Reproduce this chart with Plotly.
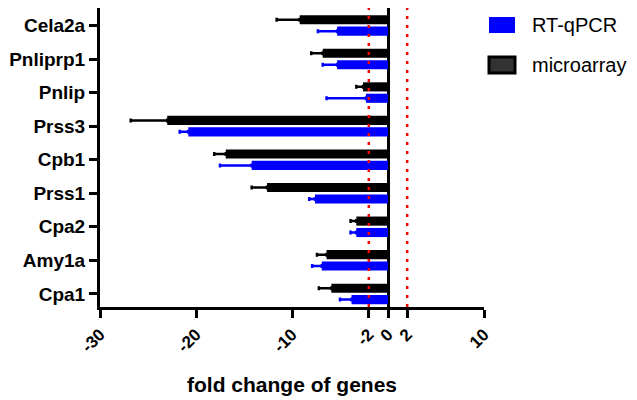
import plotly.graph_objects as go

genes = ["Cpa1", "Amy1a", "Cpa2", "Prss1", "Cpb1", "Prss3", "Pnlip", "Pnliprp1", "Cela2a"]
rtqpcr = [-3.8, -6.9, -3.3, -7.6, -14.2, -20.8, -2.3, -5.3, -5.3]
rtqpcr_err = [1.2, 1.0, 0.6, 0.6, 3.3, 0.9, 4.1, 1.5, 2.0]
microarray = [-5.9, -6.4, -3.3, -12.6, -16.9, -23.0, -2.6, -6.8, -9.2]
microarray_err = [1.3, 1.0, 0.6, 1.6, 1.2, 3.8, 0.7, 1.2, 2.4]
tick_vals = [-30, -20, -10, -2, 0, 2, 10]
tick_text = ["-30", "-20", "-10", "-2", "0", "2", "10"]
threshold_lines = [-2, 2]
series_names = ["RT-qPCR", "microarray"]

FONT = "Arial, Liberation Sans, sans-serif"
BLUE = "#0000ff"
BLACK = "#000000"

fig = go.Figure()
fig.add_trace(go.Bar(
    y=genes, x=rtqpcr, orientation="h", name=series_names[0], showlegend=False,
    marker=dict(color=BLUE, line=dict(width=0)),
    error_x=dict(type="data", symmetric=False, array=[0] * len(genes),
                 arrayminus=rtqpcr_err, color=BLUE, thickness=2.5, width=2),
))
fig.add_trace(go.Bar(
    y=genes, x=microarray, orientation="h", name=series_names[1], showlegend=False,
    marker=dict(color=BLACK, line=dict(width=0)),
    error_x=dict(type="data", symmetric=False, array=[0] * len(genes),
                 arrayminus=microarray_err, color=BLACK, thickness=2.5, width=2),
))

for v in threshold_lines:
    fig.add_shape(type="line", x0=v, x1=v, y0=0, y1=1, xref="x", yref="paper",
                  line=dict(color="#ff0000", width=2.5, dash="3px,6px"), layer="above")

# custom legend (plot area: x 100..484 px, y 8..307 px)
def px_x(p):
    return (p - 100) / 384.0

def px_y(p):
    return (307 - p) / 299.0

legend_items = [
    (series_names[0], 25, BLUE, BLUE, 0),
    (series_names[1], 65, "#333333", BLACK, 3),
]
for name, cy, fill, border, bw in legend_items:
    fig.add_shape(type="rect", xref="paper", yref="paper",
                  x0=px_x(489), x1=px_x(515), y0=px_y(cy + 8), y1=px_y(cy - 8),
                  fillcolor=fill, line=dict(color=border, width=bw))
    fig.add_annotation(text=name, xref="paper", yref="paper", x=px_x(530), y=px_y(cy),
                       xanchor="left", yanchor="middle", showarrow=False,
                       font=dict(size=20, family=FONT, color="black"))

fig.add_annotation(text="<b>fold change of genes</b>", xref="paper", yref="paper",
                   x=0.5, y=px_y(384), xanchor="center", yanchor="middle", showarrow=False,
                   font=dict(size=21, family=FONT, color="black"))

fig.update_layout(
    width=637, height=400,
    margin=dict(l=100, r=153, t=8, b=93),
    plot_bgcolor="white", paper_bgcolor="white",
    barmode="group", bargap=0.32, bargroupgap=0.2,
    font=dict(family=FONT, color="black"),
    showlegend=False,
    xaxis=dict(
        range=[-30, 10], tickvals=tick_vals, ticktext=tick_text,
        tickangle=-45, tickfont=dict(size=17, family=FONT, color="black", weight="bold"),
        showgrid=False, zeroline=True, zerolinecolor="black", zerolinewidth=2.5,
        showline=True, linecolor="black", linewidth=3, ticks="outside",
        ticklen=8, tickwidth=2.5, tickcolor="black",
    ),
    yaxis=dict(
        categoryorder="array", categoryarray=genes, range=[-0.39, 8.52],
        tickfont=dict(size=19, family=FONT, color="black", weight="bold"),
        showgrid=False, zeroline=False,
        showline=True, linecolor="black", linewidth=3, ticks="outside",
        ticklen=8, tickwidth=2.5, tickcolor="black",
    ),
)

fig.write_html("out.html")
